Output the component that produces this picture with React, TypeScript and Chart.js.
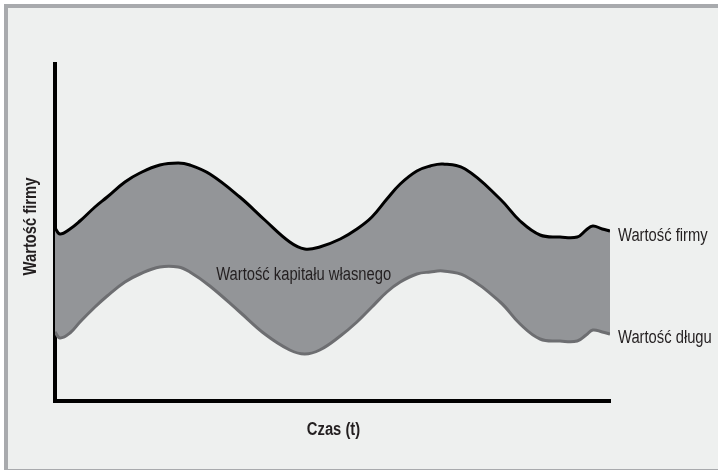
import { useEffect, useRef } from 'react';
import { Chart, registerables } from 'chart.js';

Chart.register(...registerables);

// Time axis (arbitrary units, 0..100)
const TIME = [0, 0.9, 2.7, 4.5, 7.2, 9.4, 12.6, 15.3, 18.9, 22.2, 24.3, 27.9, 33.3, 37.8, 42.3, 45.0, 47.7, 51.4, 54.4, 57.1, 59.8, 62.2, 65.2, 67.6, 69.9, 73.9, 80.2, 83.8, 87.4, 91.0, 94.1, 95.7, 96.9, 98.6, 100];
// Firm value (upper, black)
const FIRM_VALUE = [173, 167, 172, 180, 194, 204, 219, 228, 236, 238, 236, 227, 204, 181, 159, 152, 154, 162, 172, 184, 202, 217, 230, 235, 237, 232, 202, 180, 166, 164, 164, 171, 175, 172, 170];
// Debt value (lower, gray)
const DEBT_VALUE = [69, 63, 68, 79, 94, 105, 119, 127, 134, 134, 129, 115, 89, 67, 51, 47, 51, 65, 79, 94, 109, 119, 127, 129, 130, 125, 99, 77, 62, 60, 60, 66, 71, 69, 67];

const Y_MAX = 337;
const X_TITLE = 'Czas (t)';
const Y_TITLE = 'Wartość firmy';
const FIRM_LABEL = 'Wartość firmy';
const DEBT_LABEL = 'Wartość długu';
const EQUITY_LABEL = 'Wartość kapitału własnego';
const EQUITY_LABEL_POS = { x: 44.8, y: 121 };

const FONT = '"Liberation Sans", Arial, sans-serif';
const NARROW = 0.82;

function narrowText(ctx: CanvasRenderingContext2D, text: string, x: number, y: number) {
  ctx.save();
  ctx.translate(x, y);
  ctx.scale(NARROW, 1);
  ctx.fillText(text, 0, 0);
  ctx.restore();
}

const labelPlugin = {
  id: 'labelPlugin',
  afterDraw(chart: any) {
    const { ctx, chartArea, scales } = chart;
    const x = scales.x;
    const y = scales.y;
    ctx.save();
    ctx.fillStyle = '#231f20';
    ctx.font = `18px ${FONT}`;
    ctx.textBaseline = 'alphabetic';
    ctx.textAlign = 'center';
    narrowText(ctx, EQUITY_LABEL, x.getPixelForValue(EQUITY_LABEL_POS.x), y.getPixelForValue(EQUITY_LABEL_POS.y));
    ctx.textAlign = 'left';
    narrowText(ctx, FIRM_LABEL, chartArea.right + 8, y.getPixelForValue(FIRM_VALUE[FIRM_VALUE.length - 1]) + 10);
    narrowText(ctx, DEBT_LABEL, chartArea.right + 8, y.getPixelForValue(DEBT_VALUE[DEBT_VALUE.length - 1]) + 9);
    ctx.font = `bold 18px ${FONT}`;
    ctx.textAlign = 'center';
    narrowText(ctx, X_TITLE, (chartArea.left + chartArea.right) / 2 + 1, chartArea.bottom + 34);
    ctx.translate(36, (chartArea.top + chartArea.bottom) / 2 - 6);
    ctx.rotate(-Math.PI / 2);
    narrowText(ctx, Y_TITLE, 0, 0);
    ctx.restore();
  },
};

export default function App() {
  const ref = useRef<HTMLCanvasElement | null>(null);

  useEffect(() => {
    if (!ref.current) return;
    const chart = new Chart(ref.current, {
      type: 'line',
      data: {
        datasets: [
          {
            label: FIRM_LABEL,
            data: TIME.map((t, i) => ({ x: t, y: FIRM_VALUE[i] })),
            borderColor: '#000000',
            borderWidth: 3,
            pointRadius: 0,
            tension: 0.4,
            fill: '+1',
            backgroundColor: '#939598',
          },
          {
            label: DEBT_LABEL,
            data: TIME.map((t, i) => ({ x: t, y: DEBT_VALUE[i] })),
            borderColor: '#6d6e71',
            borderWidth: 3,
            pointRadius: 0,
            tension: 0.4,
            fill: false,
          },
        ],
      },
      options: {
        animation: false,
        responsive: false,
        maintainAspectRatio: false,
        layout: { padding: { left: 55, top: 64, right: 108, bottom: 69 } },
        plugins: {
          legend: { display: false },
          tooltip: { enabled: false },
          title: { display: false },
          filler: { drawTime: 'beforeDatasetsDraw' },
        },
        scales: {
          x: {
            type: 'linear',
            min: 0,
            max: 100,
            grid: { display: false, drawTicks: false },
            ticks: { display: false },
            border: { display: true, color: '#000000', width: 4 },
          },
          y: {
            type: 'linear',
            min: 0,
            max: Y_MAX,
            grid: { display: false, drawTicks: false },
            ticks: { display: false },
            border: { display: true, color: '#000000', width: 4 },
          },
        },
      },
      plugins: [labelPlugin],
    } as any);
    return () => chart.destroy();
  }, []);

  return (
    <div style={{ position: 'fixed', left: 0, top: 0, width: 718, height: 470, background: '#ffffff' }}>
      <div
        style={{
          position: 'absolute',
          left: 4,
          top: 4,
          width: 710,
          height: 461,
          background: '#eef0ef',
          borderLeft: '4px solid #a8aaad',
          borderTop: '4px solid #a8aaad',
          borderBottom: '2px solid #a8aaad',
        }}
      />
      <canvas ref={ref} width={718} height={470} style={{ position: 'absolute', left: 0, top: 0 }} />
    </div>
  );
}
